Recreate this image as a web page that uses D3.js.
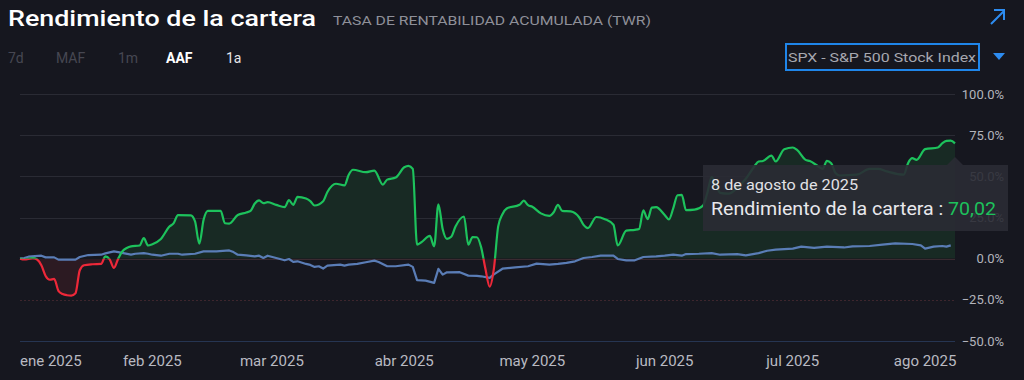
<!DOCTYPE html>
<html><head><meta charset="utf-8">
<script src="https://cdn.jsdelivr.net/npm/d3@7/dist/d3.min.js"></script>
<style>
html,body{margin:0;padding:0;background:#16171f;}
svg{display:block;font-family:Roboto,"Noto Sans",sans-serif;}
</style></head><body>
<svg id="c" width="1024" height="380"></svg>
<script>
// ---- data ----
const portDates = ["01-01","01-02","01-04","01-05","01-06","01-07","01-08","01-09","01-10","01-11","01-12","01-13","01-14","01-15","01-16","01-18","01-20","01-21","01-22","01-23","01-24","01-25","01-26","01-27","01-29","01-30","01-31","02-01","02-03","02-05","02-06","02-07","02-10","02-11","02-12","02-13","02-14","02-17","02-18","02-19","02-21","02-23","02-24","02-25","02-26","02-27","02-28","03-02","03-04","03-05","03-06","03-07","03-09","03-10","03-11","03-13","03-14","03-16","03-18","03-19","03-20","03-23","03-25","03-27","03-28","03-30","04-01","04-02","04-03","04-04","04-05","04-07","04-08","04-09","04-10","04-11","04-12","04-13","04-15","04-16","04-17","04-18","04-19","04-20","04-21","04-22","04-23","04-24","04-25","04-28","04-29","04-30","05-01","05-03","05-05","05-06","05-07","05-08","05-10","05-12","05-13","05-14","05-16","05-18","05-20","05-21","05-23","05-25","05-26","05-27","05-28","05-29","05-30","06-01","06-02","06-03","06-04","06-05","06-06","06-08","06-10","06-11","06-12","06-13","06-14","06-16","06-18","06-20","06-22","06-23","06-24","06-26","06-27","06-29","07-01","07-02","07-04","07-05","07-07","07-08","07-09","07-10","07-11","07-12","07-16","07-19","07-21","07-23","07-27","07-28","07-29","07-30","08-01","08-04","08-05","08-06","08-07","08-08"];
const portValues = [0,-0.5,0.3,-0.5,-4,-10.5,-12.8,-12.3,-19.5,-21.5,-22.2,-22.4,-21,-7,-4,-3.4,-3.2,1.4,-0.4,-5.6,0,4.5,6.5,7.5,8,12.5,8,8.8,12,19.5,21.6,26.5,26.3,22.6,9.1,23.6,29,29.1,21.5,21.3,26.5,28,29,33.5,35.4,33.7,34.3,32.7,31.3,35.5,32.7,37.5,36.5,35,32.3,34.9,40.5,45.5,44.5,51,54,52.5,53.5,45,48,49.3,55.5,56.4,54.5,8.5,10,13.8,7.5,33,18,12,13.3,19.5,25.6,8.5,13.1,13,7,-6,-17,-6,19.6,27,30.5,32.7,35.2,32.5,31.5,27.5,26,28.2,32.7,29,28.7,25,20.5,18.5,25.3,24,20.6,8,17,17.5,18,29.3,24,31,31.3,26.5,23.8,30.5,38.5,38.8,29.5,29.8,32.3,40,49.5,45,40,39.5,43,48.5,56,59,59.3,62.6,59,66.5,67.5,66,60,59.3,56,54.5,59.4,58,52,50.5,51,54.5,54.5,53,51,58,61,60,66.5,67.5,70,71.5,71.7,70.02];

const spxDates = ["01-01","01-02","01-03","01-06","01-07","01-09","01-10","01-14","01-15","01-17","01-20","01-21","01-23","01-24","01-27","01-28","01-30","01-31","02-01","02-03","02-05","02-07","02-08","02-11","02-13","02-16","02-19","02-20","02-21","02-23","02-25","02-26","02-27","02-28","03-02","03-04","03-05","03-06","03-07","03-09","03-10","03-11","03-12","03-13","03-14","03-17","03-18","03-19","03-21","03-23","03-25","03-26","03-28","03-30","04-02","04-03","04-04","04-06","04-08","04-09","04-10","04-11","04-14","04-16","04-18","04-19","04-21","04-22","04-24","04-27","04-30","05-02","05-05","05-07","05-09","05-11","05-13","05-15","05-17","05-20","05-21","05-23","05-25","05-27","05-30","06-01","06-03","06-05","06-06","06-09","06-12","06-14","06-18","06-20","06-23","06-25","06-27","07-01","07-03","07-06","07-09","07-13","07-15","07-19","07-22","07-25","07-29","07-31","08-01","08-03","08-05","08-06","08-07"];
const spxValues = [0,0.4,1.2,1.8,0.8,0.8,-0.6,-0.6,1,2.2,2.4,3.2,4.4,4,2.5,3,3.4,3,2.4,1.8,3,3,2.4,3,4.4,4.4,5,4,2.4,2,1.4,1.8,0.4,1.8,0.4,-1,-0.2,-2,-1.6,-3.2,-3.8,-5,-4.6,-6,-4.2,-3.6,-4.2,-3.6,-3.2,-2.2,-1.2,-2,-4.6,-4.6,-3.6,-5,-13,-13.3,-14.7,-6.2,-9.7,-8.3,-8.2,-10.3,-10.4,-10.7,-11.7,-9.5,-6.1,-5.3,-4.6,-3,-3.6,-3.2,-2.6,-1.6,0.4,1,1.8,1.8,-0.2,-1,-1,1,1.4,1.8,2.4,1.8,2.8,3,3.4,2.4,2.8,2,3.4,4.8,5.5,6.1,7.3,6.5,7.3,6.8,7.5,7.7,8.5,9.3,8.9,8.1,6.1,7.3,7.7,7.3,8.1];

const yTicks = [-50,-25,0,25,50,75,100];
const monthStarts = ["01-01","02-01","03-01","04-01","05-01","06-01","07-01","08-01"];
const monthLabels = ["ene 2025","feb 2025","mar 2025","abr 2025","may 2025","jun 2025","jul 2025","ago 2025"];
const rangeButtons = ["7d","MAF","1m","AAF","1a"];
const tooltipDate = "8 de agosto de 2025";
const tooltipLabel = "Rendimiento de la cartera : ";
const tooltipValue = "70,02";

// ---- setup ----
const parse = d3.timeParse("%Y-%m-%d");
const P = (s) => parse("2025-" + s);
const port = portDates.map((d,i)=>({date:P(d), v:portValues[i]}));
const spx = spxDates.map((d,i)=>({date:P(d), v:spxValues[i]}));

const svg = d3.select("#c");
const W = 1024, H = 380;
svg.append("rect").attr("width",W).attr("height",H).attr("fill","#16171f");

const x = d3.scaleTime().domain([P("01-01"), P("08-08")]).range([20, 955]);
const y = d3.scaleLinear().domain([-50, 100]).range([341, 94]);

function fit(sel, w){ sel.attr("textLength", w).attr("lengthAdjust","spacingAndGlyphs"); return sel; }

// header
fit(svg.append("text").attr("x",8).attr("y",26).attr("fill","#ffffff")
  .attr("font-size",22).attr("font-weight",500).text("Rendimiento de la cartera"), 308);
fit(svg.append("text").attr("x",333).attr("y",25).attr("fill","#8f9099")
  .attr("font-size",13.5).text("TASA DE RENTABILIDAD ACUMULADA (TWR)"), 318);
// arrow icon
svg.append("path").attr("d","M991,24 L1004,11 M994,10 L1004,10 L1004,20")
  .attr("stroke","#2d8cf0").attr("stroke-width",2).attr("fill","none");

const btnX = [8,56,118,166,226];
const btnColor = ["#464752","#464752","#464752","#ffffff","#e6e6ea"];
rangeButtons.forEach((b,i)=>{
  svg.append("text").attr("x",btnX[i]).attr("y",63).attr("font-size",14)
    .attr("font-weight", b==="AAF"?700:400).attr("fill",btnColor[i]).text(b);
});
// dropdown
svg.append("rect").attr("x",786).attr("y",44).attr("width",193).attr("height",26)
  .attr("fill","none").attr("stroke","#1f86ea").attr("stroke-width",2);
fit(svg.append("text").attr("x",788).attr("y",62).attr("font-size",13.5).attr("fill","#a7a8b0")
  .text("SPX - S&P 500 Stock Index"), 188);
svg.append("path").attr("d","M993,53 L1005,53 L999,60 Z").attr("fill","#2d8cf0");

// gridlines
const g = svg.append("g");
yTicks.forEach(t=>{
  const yy = Math.round(y(t))+0.5;
  let stroke = "#2a2b34", dash = null;
  if (t===0){ stroke = "#3a2a31"; }
  if (t===-25){ stroke = "#3d262d"; dash = "2,2"; }
  if (t===-50){ stroke = "#263552"; }
  g.append("line").attr("x1",20).attr("x2",955).attr("y1",yy).attr("y2",yy)
    .attr("stroke",stroke).attr("stroke-width",1).attr("stroke-dasharray",dash);
});

// clip paths
const defs = svg.append("defs");
defs.append("clipPath").attr("id","above").append("rect")
  .attr("x",0).attr("y",0).attr("width",W).attr("height",y(0));
defs.append("clipPath").attr("id","below").append("rect")
  .attr("x",0).attr("y",y(0)).attr("width",W).attr("height",H-y(0));

const curve = d3.curveMonotoneX;
const area = d3.area().x(d=>x(d.date)).y0(y(0)).y1(d=>y(d.v)).curve(curve);
const line = d3.line().x(d=>x(d.date)).y(d=>y(d.v)).curve(curve);

svg.append("path").datum(port).attr("d",area).attr("fill","#182a24").attr("clip-path","url(#above)");
svg.append("path").datum(port).attr("d",area).attr("fill","#2c1a22").attr("clip-path","url(#below)");

// benchmark line
svg.append("path").datum(spx).attr("d", d3.line().x(d=>x(d.date)).y(d=>y(d.v)))
  .attr("fill","none").attr("stroke","#5a7db6").attr("stroke-width",2.2).attr("stroke-linejoin","round");

svg.append("path").datum(port).attr("d",line).attr("fill","none").attr("stroke","#1dc25c")
  .attr("stroke-width",2.2).attr("clip-path","url(#above)");
svg.append("path").datum(port).attr("d",line).attr("fill","none").attr("stroke","#ee2839")
  .attr("stroke-width",2.2).attr("clip-path","url(#below)");

// y axis labels
yTicks.forEach(t=>{
  svg.append("text").attr("x",1004).attr("y",y(t)+4.5).attr("text-anchor","end")
    .attr("font-size",13).attr("fill","#b3b4bc").text(d3.format(".1f")(t)+"%");
});

// x axis labels
monthStarts.forEach((m,i)=>{
  const t = svg.append("text").attr("y",366).attr("font-size",15).attr("fill","#b9bac2").text(monthLabels[i]);
  const w = t.node().getComputedTextLength();
  let xx = x(P(m)) - w/2;
  if (xx < 20) xx = 20;
  if (xx + w > 957) xx = 957 - w;
  t.attr("x", xx);
});

// tooltip
const tt = svg.append("g");
tt.append("path").attr("d","M955,157 L947,165 L963,165 Z").attr("fill","rgba(42,43,52,0.9)");
tt.append("rect").attr("x",703).attr("y",165).attr("width",305).attr("height",66)
  .attr("fill","rgba(42,43,52,0.9)");
fit(tt.append("text").attr("x",711).attr("y",190).attr("font-size",14.5).attr("fill","#e2e2e6").text(tooltipDate), 147);
const t2 = tt.append("text").attr("x",711).attr("y",215).attr("font-size",17.5).attr("fill","#e8e8ec");
t2.append("tspan").text(tooltipLabel);
t2.append("tspan").attr("fill","#1dc25c").text(tooltipValue);
fit(t2, 285);
</script></body></html>
